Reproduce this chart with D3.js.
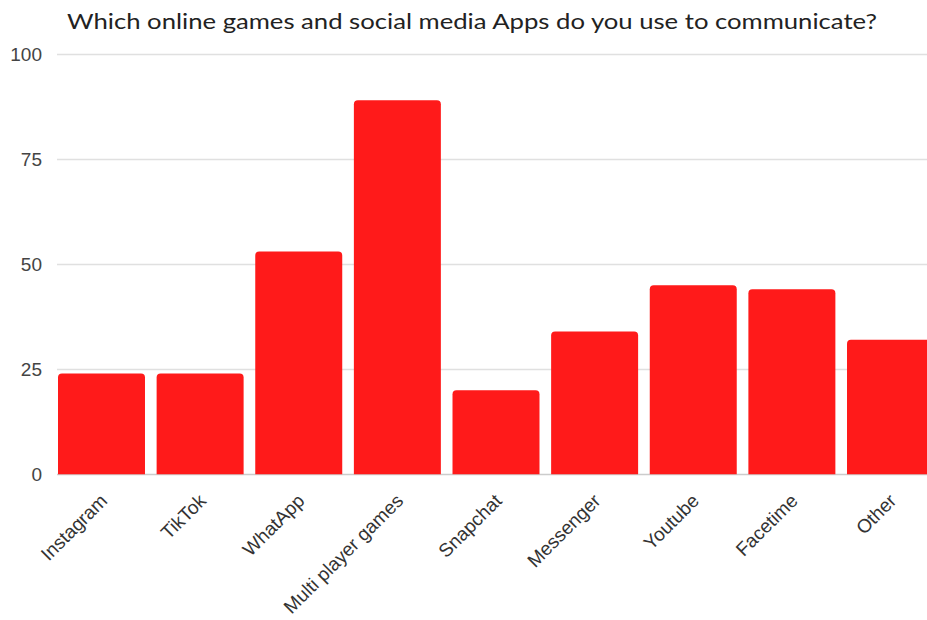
<!DOCTYPE html>
<html>
<head>
<meta charset="utf-8">
<script src="https://cdn.jsdelivr.net/npm/d3@7"></script>
<style>
  body { margin: 0; background: #fff; }
  svg { display: block; }
</style>
</head>
<body>
<svg id="chart"></svg>
<script>
const categories = ['Instagram', 'TikTok', 'WhatApp', 'Multi player games', 'Snapchat',
  'Messenger', 'Youtube', 'Facetime', 'Other']
const values = [24, 24, 53, 89, 20, 34, 45, 44, 32]
const yTicks = [0, 25, 50, 75, 100]
const title = 'Which online games and social media Apps do you use to communicate?'

const width = 927, height = 620
const MARGIN = { top: 54, left: 58, bottom: 145 }
const barColor = '#ff1a1a'

const $svg = d3.select('#chart')
  .attr('width', width)
  .attr('height', height)

const x = d3.scaleBand()
  .domain(categories)
  .range([MARGIN.left, 934])
  .paddingInner(0.118)
  .paddingOuter(0)

const y = d3.scaleLinear()
  .domain([0, 100])
  .range([height - MARGIN.bottom - 0.7, MARGIN.top])

// title
$svg.append('text')
  .attr('x', 67)
  .attr('y', 29)
  .attr('font-family', 'Lato, sans-serif')
  .attr('font-size', 21)
  .attr('fill', '#222')
  .attr('textLength', 810)
  .attr('lengthAdjust', 'spacingAndGlyphs')
  .text(title)

// gridlines
const $grid = $svg.append('g')
$grid.selectAll('line')
  .data(yTicks)
  .enter()
  .append('line')
  .attr('x1', MARGIN.left - 1)
  .attr('x2', width)
  .attr('y1', d => Math.round(y(d)) + 0.5)
  .attr('y2', d => Math.round(y(d)) + 0.5)
  .attr('stroke', d => d === 0 ? '#ccc' : '#e0e0e0')
  .attr('stroke-width', 1.5)

// y tick labels
$svg.append('g')
  .selectAll('text')
  .data(yTicks)
  .enter()
  .append('text')
  .attr('x', 42)
  .attr('y', d => y(d))
  .attr('dy', '0.36em')
  .attr('text-anchor', 'end')
  .attr('font-family', '"Liberation Sans", Arial, sans-serif')
  .attr('font-size', 19)
  .attr('fill', '#444')
  .text(d => d)

// bars with rounded top corners
const r = 4
function barPath(d, i) {
  const x0 = x(categories[i]), w = x.bandwidth()
  const y0 = y(0), y1 = y(d)
  return `M${x0},${y0} V${y1 + r} Q${x0},${y1} ${x0 + r},${y1} H${x0 + w - r} ` +
    `Q${x0 + w},${y1} ${x0 + w},${y1 + r} V${y0} Z`
}

$svg.append('g')
  .selectAll('path')
  .data(values)
  .enter()
  .append('path')
  .attr('d', (d, i) => barPath(d, i))
  .attr('fill', barColor)

// x labels, rotated
$svg.append('g')
  .selectAll('text')
  .data(categories)
  .enter()
  .append('text')
  .attr('transform', d => `translate(${x(d) + x.bandwidth() / 2 + 7}, 502) rotate(-45)`)
  .attr('text-anchor', 'end')
  .attr('font-family', '"Liberation Sans", Arial, sans-serif')
  .attr('font-size', 19)
  .attr('fill', '#333')
  .text(d => d)
</script>
</body>
</html>
